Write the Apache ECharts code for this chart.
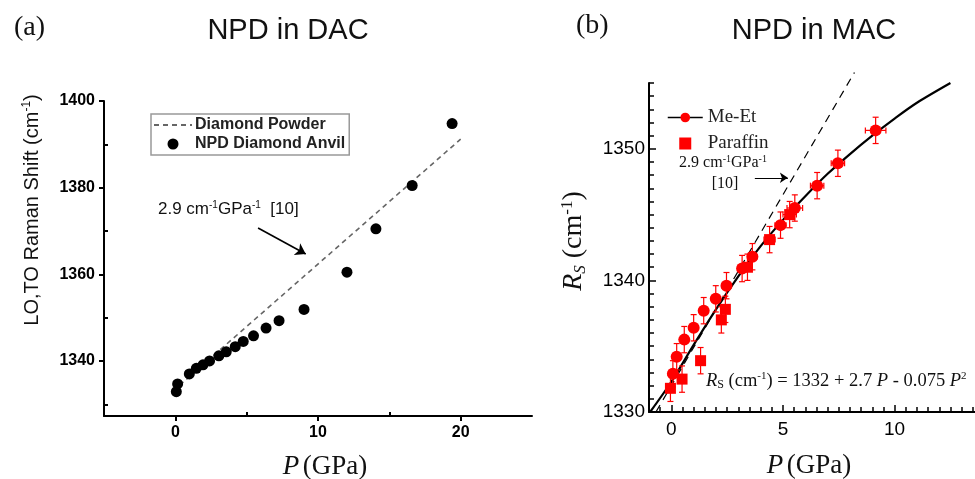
<!DOCTYPE html>
<html><head><meta charset="utf-8">
<script src="https://cdn.jsdelivr.net/npm/echarts@6/dist/echarts.min.js"></script>
<style>html,body{margin:0;padding:0;background:#fff}#c{width:975px;height:479px}</style>
</head><body><div id="c"></div>
<script>
// ---------- Panel (a): NPD in DAC ----------
const dacPressure = [0.07,0.16,0.98,1.47,1.94,2.4,3.05,3.57,4.2,4.76,5.48,6.36,7.27,9.02,12.03,14.06,16.6,19.4];
const dacShift    = [1332.9,1334.7,1337.0,1338.3,1339.1,1340.0,1341.2,1342.1,1343.3,1344.5,1345.8,1347.6,1349.3,1351.9,1360.5,1370.5,1380.5,1394.8];
const powderP     = [0.3, 20];
const powderShift = [1334.4, 1391.2];
const dacArrowP     = [5.8, 9.14];
const dacArrowShift = [1370.7, 1364.7];
const dacXTickMajor = [0, 10, 20];
const dacXTickMinor = [5, 15];
const dacYTickMajor = [1340, 1360, 1380, 1400];
const dacYTickMinor = [1330, 1350, 1370, 1390];

// ---------- Panel (b): NPD in MAC ----------
const meEtP        = [0.07,0.24,0.58,1.0,1.45,1.99,2.47,3.17,3.63,4.89,5.53,6.53,7.46,9.15];
const meEtShift    = [1332.9,1334.2,1335.5,1336.4,1337.7,1338.6,1339.6,1340.9,1341.8,1344.2,1345.5,1347.2,1348.9,1351.4];
const meEtPErr     = [0.1,0.1,0.1,0.1,0.15,0.15,0.2,0.2,0.2,0.25,0.35,0.3,0.3,0.46];
const meEtShiftErr = [1,1,1,1,1,1,1,1,1,1,1,1,1,1];
const paraffinP        = [-0.04,0.48,1.31,2.24,2.42,3.41,4.4,5.3];
const paraffinShift    = [1331.8,1332.5,1333.9,1337.0,1337.8,1341.0,1343.1,1345.0];
const paraffinPErr     = [0.1,0.1,0.1,0.1,0.1,0.2,0.25,0.3];
const paraffinShiftErr = [1,1,1,1,1,1,1,1];
const fitP     = [-0.95,0,1,2,3,4,5,6,7,8,9,10,11,12.5];
const fitShift = [1330,1332.3,1335.1,1337.8,1340.3,1342.6,1344.6,1346.4,1348.1,1349.6,1351.0,1352.3,1353.5,1355.0];
const slopeP     = [-0.69, 8.2];
const slopeShift = [1330, 1355.8];
const macArrowP     = [3.74, 5.22];
const macArrowShift = [1347.8, 1347.8];
const macXTickMajor = [0, 5, 10];
const macXTickMinor = [-1,-0.5,0.5,1,1.5,2,2.5,3,3.5,4,4.5,5.5,6,6.5,7,7.5,8,8.5,9,9.5,10.5,11,11.5,12,12.5,13,13.5];
const macYTickMajor = [1330, 1340, 1350];
const macYTickMinor = [1331,1332,1333,1334,1335,1336,1337,1338,1339,1341,1342,1343,1344,1345,1346,1347,1348,1349,1351,1352,1353,1354,1355];

const zip = (a, b) => a.map((v, i) => [v, b[i]]);
const zip4 = (a, b, c, d) => a.map((v, i) => [v, b[i], c[i], d[i]]);

const SANS = 'Liberation Sans, Arial, sans-serif';
const SERIF = 'Liberation Serif, Times New Roman, serif';
const RED = '#ff0000';
const plain = v => String(v);

function errRender(params, api) {
  const x = api.value(0), y = api.value(1), ex = api.value(2), ey = api.value(3);
  const t = api.coord([x, y + ey]), b = api.coord([x, y - ey]);
  const l = api.coord([x - ex, y]), r = api.coord([x + ex, y]);
  const c = 3;
  const st = { stroke: RED, lineWidth: 1.2 };
  return { type: 'group', children: [
    { type: 'line', shape: { x1: t[0], y1: t[1], x2: b[0], y2: b[1] }, style: st },
    { type: 'line', shape: { x1: t[0]-c, y1: t[1], x2: t[0]+c, y2: t[1] }, style: st },
    { type: 'line', shape: { x1: b[0]-c, y1: b[1], x2: b[0]+c, y2: b[1] }, style: st },
    { type: 'line', shape: { x1: l[0], y1: l[1], x2: r[0], y2: r[1] }, style: st },
    { type: 'line', shape: { x1: l[0], y1: l[1]-c, x2: l[0], y2: l[1]+c }, style: st },
    { type: 'line', shape: { x1: r[0], y1: r[1]-c, x2: r[0], y2: r[1]+c }, style: st }
  ]};
}

function majorAxis(extra) {
  return Object.assign({
    type: 'value', splitLine: { show: false },
    axisLine: { show: true, onZero: false, lineStyle: { color: '#000', width: 2 } }
  }, extra);
}
function minorAxis(extra) {
  return Object.assign({
    type: 'value', splitLine: { show: false },
    axisLine: { show: false, onZero: false }, axisLabel: { show: false }
  }, extra);
}

const chart = echarts.init(document.getElementById('c'), null, { renderer: 'canvas' });
const option = {
  backgroundColor: '#fff',
  animation: false,
  grid: [
    { left: 104, top: 101, width: 428, height: 315 },
    { left: 649, top: 83, width: 326, height: 329 }
  ],
  xAxis: [
    majorAxis({ gridIndex: 0, position: 'bottom', min: -5, max: 25,
      axisTick: { show: true, inside: false, length: 5, customValues: dacXTickMajor, lineStyle: { color: '#000', width: 2 } },
      axisLabel: { customValues: dacXTickMajor, formatter: plain, color: '#000', fontFamily: SANS, fontWeight: 'bold', fontSize: 16, margin: 9 } }),
    minorAxis({ gridIndex: 0, position: 'bottom', min: -5, max: 25,
      axisTick: { show: true, inside: true, length: 4, customValues: dacXTickMinor, lineStyle: { color: '#000', width: 2 } } }),
    majorAxis({ gridIndex: 1, position: 'bottom', min: -1, max: 13.6,
      axisTick: { show: true, inside: true, length: 7, customValues: macXTickMajor, lineStyle: { color: '#000', width: 1.5 } },
      axisLabel: { customValues: macXTickMajor, formatter: plain, color: '#000', fontFamily: SANS, fontSize: 19, margin: 8 } }),
    minorAxis({ gridIndex: 1, position: 'bottom', min: -1, max: 13.6,
      axisTick: { show: true, inside: true, length: 5, customValues: macXTickMinor, lineStyle: { color: '#000', width: 1.5 } } })
  ],
  yAxis: [
    majorAxis({ gridIndex: 0, position: 'left', min: 1327.3, max: 1400,
      axisTick: { show: true, inside: false, length: 5, customValues: dacYTickMajor, lineStyle: { color: '#000', width: 2 } },
      axisLabel: { customValues: dacYTickMajor, formatter: plain, color: '#000', fontFamily: SANS, fontWeight: 'bold', fontSize: 16, margin: 9 } }),
    minorAxis({ gridIndex: 0, position: 'left', min: 1327.3, max: 1400,
      axisTick: { show: true, inside: true, length: 4, customValues: dacYTickMinor, lineStyle: { color: '#000', width: 2 } } }),
    majorAxis({ gridIndex: 1, position: 'left', min: 1330, max: 1355,
      axisTick: { show: true, inside: true, length: 7, customValues: macYTickMajor, lineStyle: { color: '#000', width: 1.5 } },
      axisLabel: { customValues: macYTickMajor, formatter: plain, color: '#000', fontFamily: SANS, fontSize: 19, margin: 4 } }),
    minorAxis({ gridIndex: 1, position: 'left', min: 1330, max: 1355,
      axisTick: { show: true, inside: true, length: 5, customValues: macYTickMinor, lineStyle: { color: '#000', width: 1.5 } } })
  ],
  legend: [
    { data: [{ name: 'Diamond Powder', itemStyle: { opacity: 0 } }, { name: 'NPD Diamond Anvil' }],
      orient: 'vertical', left: 151, top: 114,
      borderColor: '#999', borderWidth: 1.5, padding: [3, 4, 3, 2], itemGap: 3,
      itemWidth: 38, itemHeight: 11, selectedMode: false,
      textStyle: { fontFamily: SANS, fontWeight: 'bold', fontSize: 16, color: '#222', padding: [0,0,0,-2] } },
    { data: [{ name: 'Me-Et' }, { name: 'Paraffin', icon: 'path://M0,0 L10,0 L10,10 L0,10 Z' }],
      orient: 'vertical', left: 667, top: 108,
      padding: 0, itemGap: 7, itemWidth: 35, itemHeight: 12, selectedMode: false,
      lineStyle: { color: '#000', width: 1.5, opacity: 1 },
      textStyle: { fontFamily: SERIF, fontSize: 19, color: '#222' } }
  ],
  series: [
    { name: 'Diamond Powder', type: 'line', xAxisIndex: 0, yAxisIndex: 0, data: zip(powderP, powderShift),
      symbol: 'none', lineStyle: { color: '#666', width: 1.6, type: [5, 4] }, itemStyle: { color: '#666' }, z: 2,
      markLine: { silent: true, symbol: ['none', 'arrow'], symbolSize: 10, label: { show: false },
        lineStyle: { color: '#000', width: 1.6, type: 'solid' },
        data: [[{ coord: [dacArrowP[0], dacArrowShift[0]] }, { coord: [dacArrowP[1], dacArrowShift[1]] }]] } },
    { name: 'NPD Diamond Anvil', type: 'scatter', xAxisIndex: 0, yAxisIndex: 0, data: zip(dacPressure, dacShift),
      symbol: 'circle', symbolSize: 11, itemStyle: { color: '#000', opacity: 1 }, z: 3 },
    { name: 'fit', type: 'line', xAxisIndex: 2, yAxisIndex: 2, data: zip(fitP, fitShift), smooth: 0.3,
      symbol: 'none', lineStyle: { color: '#000', width: 2.2 }, z: 3,
      markLine: { silent: true, symbol: ['none', 'arrow'], symbolSize: 8, label: { show: false },
        lineStyle: { color: '#000', width: 1.2, type: 'solid' },
        data: [[{ coord: [macArrowP[0], macArrowShift[0]] }, { coord: [macArrowP[1], macArrowShift[1]] }]] } },
    { name: 'slope', type: 'line', xAxisIndex: 2, yAxisIndex: 2, data: zip(slopeP, slopeShift), clip: false,
      symbol: 'none', lineStyle: { color: '#000', width: 1.2, type: [8, 6] }, z: 2 },
    { name: 'errMe', type: 'custom', xAxisIndex: 2, yAxisIndex: 2, data: zip4(meEtP, meEtShift, meEtPErr, meEtShiftErr),
      renderItem: errRender, encode: { x: 0, y: 1 }, z: 4, silent: true },
    { name: 'errPar', type: 'custom', xAxisIndex: 2, yAxisIndex: 2, data: zip4(paraffinP, paraffinShift, paraffinPErr, paraffinShiftErr),
      renderItem: errRender, encode: { x: 0, y: 1 }, z: 4, silent: true },
    { name: 'Me-Et', type: 'line', xAxisIndex: 2, yAxisIndex: 2, data: zip(meEtP, meEtShift),
      symbol: 'circle', symbolSize: 12, showSymbol: true, lineStyle: { opacity: 0, color: '#000' },
      itemStyle: { color: RED, opacity: 1 }, z: 5 },
    { name: 'Paraffin', type: 'scatter', xAxisIndex: 2, yAxisIndex: 2, data: zip(paraffinP, paraffinShift),
      symbol: 'rect', symbolSize: 11, itemStyle: { color: RED, opacity: 1 }, z: 5 }
  ],
  graphic: [
    { type: 'text', left: 14, top: 14, style: { text: '(a)', font: '28px ' + SERIF, fill: '#111' } },
    { type: 'text', x: 288, y: 31, style: { text: 'NPD in DAC', font: '29px ' + SANS, fill: '#111', align: 'center', verticalAlign: 'middle' } },
    { type: 'text', left: 576, top: 12, style: { text: '(b)', font: '28px ' + SERIF, fill: '#111' } },
    { type: 'text', x: 814, y: 31, style: { text: 'NPD in MAC', font: '29px ' + SANS, fill: '#111', align: 'center', verticalAlign: 'middle' } },
    { type: 'text', x: 32, y: 210, rotation: Math.PI / 2, style: {
        text: '{m|LO,TO Raman Shift (cm}{s|-1}{m|)}', align: 'center', verticalAlign: 'middle', fill: '#111',
        rich: { m: { fontFamily: SANS, fontSize: 20, lineHeight: 22 }, s: { fontFamily: SANS, fontSize: 12, lineHeight: 14, verticalAlign: 'top' } } } },
    { type: 'text', x: 325, y: 467, style: {
        text: '{i|P} {m|(GPa)}', align: 'center', verticalAlign: 'middle', fill: '#111',
        rich: { i: { fontFamily: SERIF, fontStyle: 'italic', fontSize: 27 }, m: { fontFamily: SERIF, fontSize: 27 } } } },
    { type: 'text', left: 158, top: 200, style: {
        text: '{m|2.9 cm}{s|-1}{m|GPa}{s|-1}{m|  [10]}', fill: '#111',
        rich: { m: { fontFamily: SANS, fontSize: 17, lineHeight: 19 }, s: { fontFamily: SANS, fontSize: 10, lineHeight: 12, verticalAlign: 'top' } } } },
    { type: 'text', x: 574, y: 241, rotation: Math.PI / 2, style: {
        text: '{i|R}{sub|S}{m| (cm}{s|-1}{m|)}', align: 'center', verticalAlign: 'middle', fill: '#111',
        rich: { i: { fontFamily: SERIF, fontStyle: 'italic', fontSize: 28, lineHeight: 30 },
                sub: { fontFamily: SERIF, fontStyle: 'italic', fontSize: 17, lineHeight: 20, verticalAlign: 'bottom' },
                m: { fontFamily: SERIF, fontSize: 28, lineHeight: 30 },
                s: { fontFamily: SERIF, fontSize: 17, lineHeight: 18, verticalAlign: 'top' } } } },
    { type: 'text', x: 809, y: 466, style: {
        text: '{i|P} {m|(GPa)}', align: 'center', verticalAlign: 'middle', fill: '#111',
        rich: { i: { fontFamily: SERIF, fontStyle: 'italic', fontSize: 27 }, m: { fontFamily: SERIF, fontSize: 27 } } } },
    { type: 'text', x: 723, y: 163, style: {
        text: '{m|2.9 cm}{s|-1}{m|GPa}{s|-1}', align: 'center', verticalAlign: 'middle', fill: '#111',
        rich: { m: { fontFamily: SERIF, fontSize: 16, lineHeight: 18 }, s: { fontFamily: SERIF, fontSize: 10, lineHeight: 11, verticalAlign: 'top' } } } },
    { type: 'text', x: 725, y: 184, style: { text: '[10]', font: '16px ' + SERIF, fill: '#111', align: 'center', verticalAlign: 'middle' } },
    { type: 'text', left: 706, top: 371, style: {
        text: '{i|R}{sub|S}{m| (cm}{s|-1}{m|) = 1332 + 2.7 }{i|P}{m| - 0.075 }{i|P}{s|2}', fill: '#111',
        rich: { i: { fontFamily: SERIF, fontStyle: 'italic', fontSize: 18.5, lineHeight: 20 },
                m: { fontFamily: SERIF, fontSize: 18.5, lineHeight: 20 },
                sub: { fontFamily: SERIF, fontSize: 12, lineHeight: 13, verticalAlign: 'bottom' },
                s: { fontFamily: SERIF, fontSize: 11, lineHeight: 12, verticalAlign: 'top' } } } }
  ]
};
chart.setOption(option);
</script>
</body></html>
